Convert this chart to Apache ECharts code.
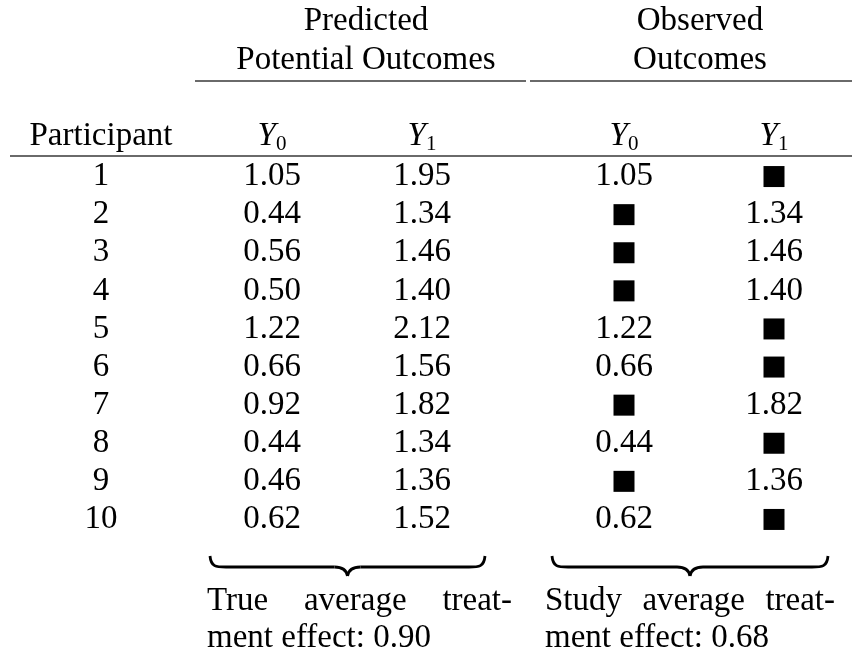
<!DOCTYPE html>
<html><head><meta charset="utf-8">
<script src="https://cdn.jsdelivr.net/npm/echarts@6/dist/echarts.min.js"></script>
<style>html,body{margin:0;padding:0;background:#fff}#c{width:852px;height:653px}</style>
</head><body><div id="c"></div>
<script>
// ---- data ----
const participants = ['1','2','3','4','5','6','7','8','9','10'];
const predictedY0 = [1.05,0.44,0.56,0.50,1.22,0.66,0.92,0.44,0.46,0.62];
const predictedY1 = [1.95,1.34,1.46,1.40,2.12,1.56,1.82,1.34,1.36,1.52];
const observedY0 = [1.05,null,null,null,1.22,0.66,null,0.44,null,0.62];
const observedY1 = [null,1.34,1.46,1.40,null,null,1.82,null,1.36,null];
const firstColumnLabel = ['Participant'];
const columnLabels = ['Y0','Y1'];
const groupTitles = ['Predicted\nPotential Outcomes','Observed\nOutcomes'];
const noteFirstLines = [['True','average','treat-'],['Study','average','treat-']];
const noteSecondLines = ['ment effect: 0.90','ment effect: 0.68'];

// ---- style ----
const FONT = "'Liberation Serif', 'Times New Roman', serif";
const FS = 33;
const ROWS_TOP = 157.5, ROWS_H = 381;
const chart = echarts.init(document.getElementById('c'), null, {renderer:'canvas'});

const rich = {
  y: {fontFamily: FONT, fontSize: FS, fontStyle: 'italic', color: '#000', lineHeight: 36},
  s: {fontFamily: FONT, fontSize: 21, color: '#000', lineHeight: 18, verticalAlign: 'bottom'}
};
function headAxis(gi, data, isY) {
  return {
    gridIndex: gi, type: 'category', data: data, position: 'top',
    axisLine: {show: false}, axisTick: {show: false}, splitLine: {show: false},
    axisLabel: isY ? {
      margin: 3, interval: 0,
      formatter: v => '{y|Y}{s|' + v.slice(1) + '}', rich: rich
    } : {margin: 5, interval: 0, fontFamily: FONT, fontSize: FS, color: '#000'}
  };
}
function rowAxis(gi) {
  return {gridIndex: gi, type: 'category', data: participants, inverse: true, show: false};
}
const labelStyle = {show: true, position: 'inside', fontFamily: FONT, fontSize: FS, color: '#000', opacity: 1};
function textSeries(gi, col, arr, fmt) {
  const data = [];
  arr.forEach((v, i) => { if (v !== null) data.push([col, i, v]); });
  return {
    type: 'scatter', xAxisIndex: gi, yAxisIndex: gi, data: data, symbolSize: 1,
    itemStyle: {color: 'rgba(0,0,0,0)', opacity: 1}, silent: true,
    label: Object.assign({formatter: p => fmt(p.value[2])}, labelStyle)
  };
}
function squareSeries(gi, col, arr) {
  const data = [];
  arr.forEach((v, i) => { if (v === null) data.push([col, i]); });
  return {type: 'scatter', xAxisIndex: gi, yAxisIndex: gi, data: data, symbol: 'rect', symbolSize: 21,
    itemStyle: {color: '#000', opacity: 1}, silent: true};
}
const f2 = v => Number(v).toFixed(2);

// justified note text
const ctx = document.createElement('canvas').getContext('2d');
ctx.font = FS + "px 'Liberation Serif'";
function txt(t, x, y) {
  return {type: 'text', x: x, y: y, style: {text: t, fontFamily: FONT, fontSize: FS, fill: '#000', verticalAlign: 'middle'}};
}
function justified(words, xL, xR, y) {
  const ws = words.map(w => ctx.measureText(w).width);
  const gap = (xR - xL - ws.reduce((a, b) => a + b, 0)) / (words.length - 1);
  let x = xL; const out = [];
  words.forEach((w, k) => { out.push(txt(w, x, y)); x += ws[k] + gap; });
  return out;
}
const bstyle = {stroke: '#000', lineWidth: 2.8, fill: null};
function brace(x0, x1, yTop, yFlat, yTip) {
  const xm = (x0 + x1) / 2;
  return [
    {type: 'bezierCurve', shape: {x1: x0, y1: yTop, cpx1: x0 + 1, cpy1: yFlat, cpx2: x0 + 6, cpy2: yFlat, x2: x0 + 16, y2: yFlat}, style: bstyle},
    {type: 'line', shape: {x1: x0 + 16, y1: yFlat, x2: xm - 13, y2: yFlat}, style: bstyle},
    {type: 'bezierCurve', shape: {x1: xm - 13, y1: yFlat, cpx1: xm - 5, cpy1: yFlat, cpx2: xm - 1, cpy2: yFlat + 3, x2: xm, y2: yTip}, style: bstyle},
    {type: 'bezierCurve', shape: {x1: xm, y1: yTip, cpx1: xm + 1, cpy1: yFlat + 3, cpx2: xm + 5, cpy2: yFlat, x2: xm + 13, y2: yFlat}, style: bstyle},
    {type: 'line', shape: {x1: xm + 13, y1: yFlat, x2: x1 - 16, y2: yFlat}, style: bstyle},
    {type: 'bezierCurve', shape: {x1: x1 - 16, y1: yFlat, cpx1: x1 - 6, cpy1: yFlat, cpx2: x1 - 1, cpy2: yFlat, x2: x1, y2: yTop}, style: bstyle}
  ];
}
const rule = (x1, x2, y) => ({type: 'line', shape: {x1: x1, y1: y, x2: x2, y2: y}, style: {stroke: '#6a6a6a', lineWidth: 2}});

const graphic = [
  rule(195, 526, 81), rule(530, 852, 81), rule(10, 852, 156),
  ...brace(210, 485, 556, 567, 576), ...brace(552, 828, 556, 567, 576),
  ...justified(noteFirstLines[0], 207, 512, 601),
  ...justified(noteFirstLines[1], 545, 835, 601),
  txt(noteSecondLines[0], 207, 638),
  txt(noteSecondLines[1], 545, 638)
];

const option = {
  animation: false,
  backgroundColor: '#fff',
  title: [
    {text: groupTitles[0], left: 361, top: -3, textAlign: 'center',
     textStyle: {fontFamily: FONT, fontSize: FS, fontWeight: 'normal', color: '#000', lineHeight: 39}},
    {text: groupTitles[1], left: 695, top: -3, textAlign: 'center',
     textStyle: {fontFamily: FONT, fontSize: FS, fontWeight: 'normal', color: '#000', lineHeight: 39}}
  ],
  grid: [
    {left: 41, width: 120, top: ROWS_TOP, height: ROWS_H},
    {left: 197, width: 300, top: ROWS_TOP, height: ROWS_H},
    {left: 549, width: 300, top: ROWS_TOP, height: ROWS_H}
  ],
  xAxis: [headAxis(0, firstColumnLabel, false), headAxis(1, columnLabels, true), headAxis(2, columnLabels, true)],
  yAxis: [rowAxis(0), rowAxis(1), rowAxis(2)],
  series: [
    textSeries(0, 0, participants, v => v),
    textSeries(1, 0, predictedY0, f2),
    textSeries(1, 1, predictedY1, f2),
    textSeries(2, 0, observedY0, f2),
    textSeries(2, 1, observedY1, f2),
    squareSeries(2, 0, observedY0),
    squareSeries(2, 1, observedY1)
  ],
  graphic: graphic
};
chart.setOption(option);
</script></body></html>
